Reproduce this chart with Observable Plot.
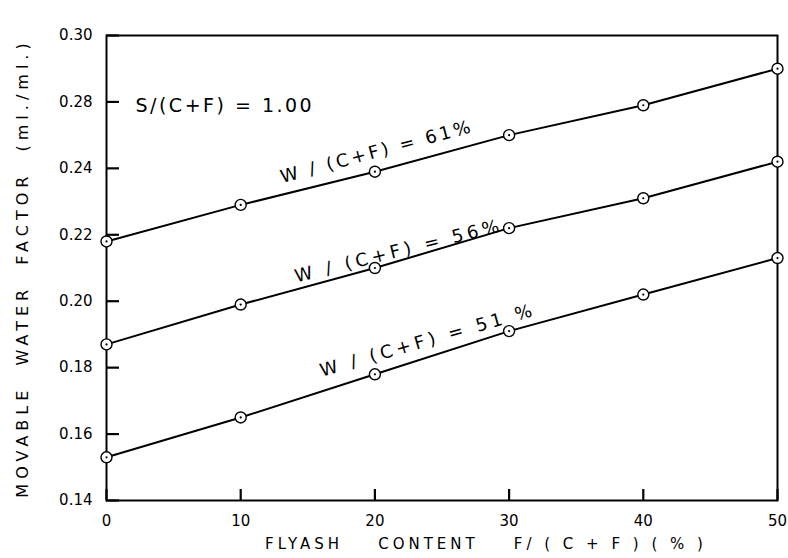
<!DOCTYPE html>
<html><head><meta charset="utf-8">
<script src="https://cdn.jsdelivr.net/npm/d3@7"></script>
<script src="https://cdn.jsdelivr.net/npm/@observablehq/plot@0.6"></script>
<style>
html,body{margin:0;padding:0;background:#fff;}
#chart svg text{white-space:pre;}
</style></head><body><div id="chart"></div>
<script>
// ---- data ----
const flyash = [0, 10, 20, 30, 40, 50];
const w61 = [0.218, 0.229, 0.239, 0.260, 0.278, 0.290];
const w56 = [0.187, 0.199, 0.210, 0.222, 0.231, 0.244];
const w51 = [0.153, 0.165, 0.178, 0.191, 0.202, 0.213];
const seriesNames = ["61%", "56%", "51%"];
const seriesLabels = ["W / (C+F) = 61%", "W / (C+F) = 56%", "W / (C+F) = 51 %"];
const xTicks = [0, 10, 20, 30, 40, 50];
const yTicks = [0.14, 0.16, 0.18, 0.20, 0.22, 0.24, 0.28, 0.30];
const ratioNote = "S/(C+F) = 1.00";
const xTitle = "FLYASH    CONTENT    F/ ( C + F ) ( % )";
const yTitle = "MOVABLE  WATER  FACTOR  (ml./ml.)";

// ---- layout ----
const W = 788, H = 558, mt = 35, mb = 58, ml = 106, mr = 11;
const bottom = H - mb;
const plotW = W - ml - mr, plotH = bottom - mt;
// printed tick labels are evenly spaced on the drawn axis
const yRange = yTicks.map((_, i) => bottom - i * plotH / (yTicks.length - 1));
// tick lengths expressed in data units (13px along x, 11px along y)
const xTickLen = 13 * 50 / plotW;
const yPix = d3.scaleLinear().domain(yRange.slice().reverse()).range(yTicks.slice().reverse());
const yTickTop = yPix(bottom - 11);

const seriesValues = [w61, w56, w51];
const rows = [];
seriesValues.forEach((vals, k) => flyash.forEach((f, i) => rows.push({series: seriesNames[k], x: f, y: vals[i]})));

const labelPlacement = [
  {dx: 2, dy: -20, rotate: -15, spacing: "3px"},
  {dx: 24, dy: -17, rotate: -14, spacing: "4px"},
  {dx: 53, dy: -34, rotate: -16, spacing: "4px"}
];

const marks = [
  Plot.frame({stroke: "black", strokeWidth: 2}),
  Plot.axisX({ticks: xTicks, tickSize: 0, tickPadding: 15, tickFormat: d3.format("d"), label: null, fontSize: 15}),
  Plot.axisY({ticks: yTicks, tickSize: 0, tickPadding: 14, tickFormat: d3.format(".2f"), label: null, fontSize: 15}),
  // inward tick marks
  Plot.ruleX(xTicks, {x: d => d, y1: yTicks[0], y2: yTickTop, stroke: "black", strokeWidth: 2.2}),
  Plot.ruleY(yTicks, {y: d => d, x1: 0, x2: xTickLen, stroke: "black", strokeWidth: 2.2}),
];
seriesNames.forEach((name) => {
  const data = rows.filter(d => d.series === name);
  marks.push(Plot.line(data, {x: "x", y: "y", stroke: "black", strokeWidth: 2}));
});
seriesNames.forEach((name, k) => {
  const data = rows.filter(d => d.series === name);
  marks.push(Plot.dot(data, {x: "x", y: "y", r: 5.5, fill: "white", stroke: "black", strokeWidth: 1.4}));
  marks.push(Plot.dot(data, {x: "x", y: "y", r: 1.1, fill: "black"}));
  const p = labelPlacement[k];
  marks.push(Plot.text(data.filter(d => d.x === 20), {x: "x", y: "y", text: () => seriesLabels[k], dx: p.dx, dy: p.dy, rotate: p.rotate, fontSize: 18, textAnchor: "middle"}));
});
marks.push(Plot.text([ratioNote], {frameAnchor: "top-left", dx: 29, dy: 63, textAnchor: "start", fontSize: 19}));
marks.push(Plot.text([yTitle], {frameAnchor: "left", dx: -84, rotate: -90, textAnchor: "middle", fontSize: 16}));
marks.push(Plot.text([xTitle], {frameAnchor: "bottom", dx: 44, dy: 48, textAnchor: "middle", fontSize: 15}));

const chart = Plot.plot({
  width: W, height: H,
  marginTop: mt, marginBottom: mb, marginLeft: ml, marginRight: mr,
  style: {fontFamily: "DejaVu Sans", fontSize: "15px", background: "white", color: "black"},
  x: {domain: [0, 50]},
  y: {type: "linear", domain: yTicks, range: yRange},
  marks
});
document.getElementById("chart").append(chart);

// wide letter spacing like the plotter lettering of the original
const spacing = new Map([
  ...seriesLabels.map((s, k) => [s, labelPlacement[k].spacing]),
  [ratioNote, "2.5px"],
  [yTitle, "5px"],
  [xTitle, "4px"]
]);
d3.select(chart).selectAll("text").each(function () {
  const s = spacing.get(this.textContent);
  if (s) this.style.letterSpacing = s;
});
</script></body></html>
